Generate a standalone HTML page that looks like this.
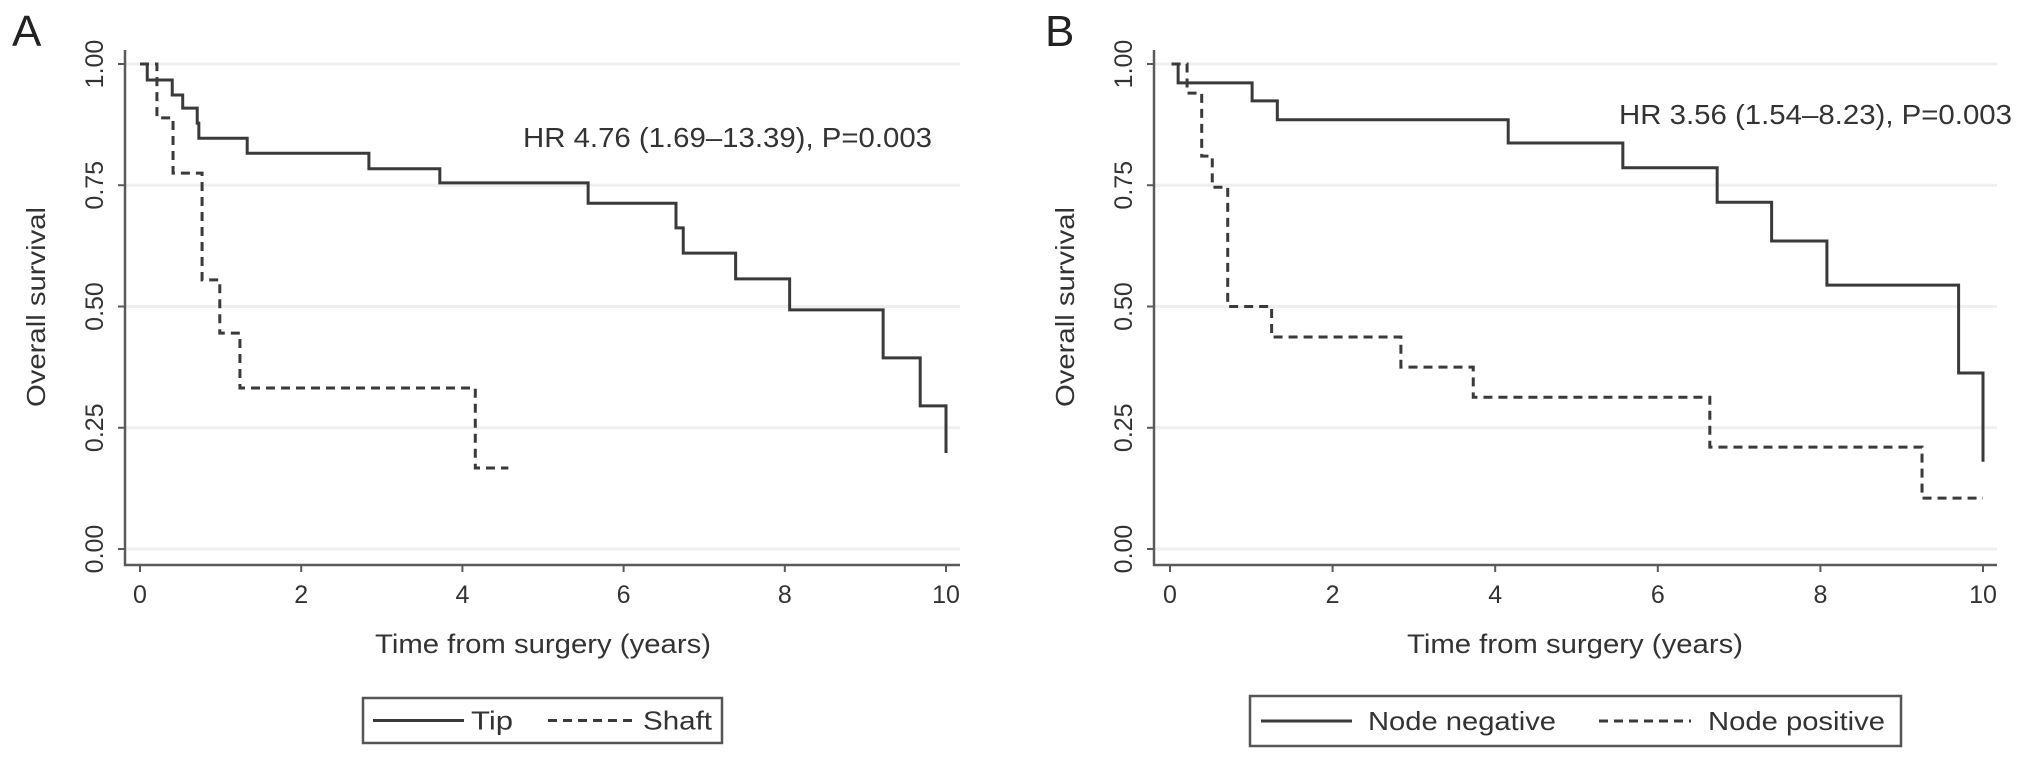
<!DOCTYPE html>
<html><head><meta charset="utf-8"><style>
html,body{margin:0;padding:0;background:#fff;}
svg{display:block;font-family:"Liberation Sans",sans-serif;}
</style></head><body>
<svg id="chart" width="2032" height="760" viewBox="0 0 2032 760" xmlns="http://www.w3.org/2000/svg"></svg>
<script>
// Panel A data
const aTipTimes = [0, 0.09, 0.40, 0.53, 0.71, 0.73, 1.33, 2.84, 3.72, 5.56, 6.65, 6.74, 7.39, 8.06, 9.22, 9.68, 10.0];
const aTipSurv  = [1, 0.967, 0.936, 0.909, 0.878, 0.847, 0.816, 0.784, 0.755, 0.713, 0.662, 0.610, 0.557, 0.493, 0.394, 0.295, 0.198];
const aTipEnd = 10.0;
const aShaftTimes = [0, 0.21, 0.41, 0.77, 0.99, 1.24, 4.16];
const aShaftSurv  = [1, 0.889, 0.775, 0.555, 0.445, 0.332, 0.167];
const aShaftEnd = 4.57;
// Panel B data
const bNegTimes = [0.02, 0.10, 1.01, 1.32, 4.16, 5.57, 6.73, 7.40, 8.08, 9.70, 10.0];
const bNegSurv  = [1, 0.961, 0.924, 0.885, 0.837, 0.786, 0.715, 0.635, 0.544, 0.363, 0.18];
const bNegEnd = 10.0;
const bPosTimes = [0.02, 0.21, 0.39, 0.52, 0.71, 1.25, 2.84, 3.73, 6.64, 9.25];
const bPosSurv  = [1, 0.94, 0.81, 0.746, 0.50, 0.437, 0.375, 0.313, 0.21, 0.105];
const bPosEnd = 10.0;
// Axis ticks
const xTicks = [0, 2, 4, 6, 8, 10];
const yTicks = [0, 0.25, 0.5, 0.75, 1.0];
const yTickLabels = ["0.00", "0.25", "0.50", "0.75", "1.00"];

const NS = "http://www.w3.org/2000/svg";
const svg = document.getElementById("chart");
function mk(tag, attrs, parent) {
  const e = document.createElementNS(NS, tag);
  for (const k in attrs) e.setAttribute(k, attrs[k]);
  (parent || svg).appendChild(e);
  return e;
}

function drawPanel(p) {
  const g = mk("g", {});
  
  
  const xs = t => p.x0 + t * p.pxYear;
  const ys = s => 549 - s * 485;

  // gridlines
  yTicks.forEach(v => {
    const l = mk("line", {x1: p.axisX + 1, x2: p.axisEnd, y1: ys(v), y2: ys(v), stroke: "#efefef", "stroke-width": 3}, g);
    
    
  });
  // axes
  const ya = mk("line", {x1: p.axisX, x2: p.axisX, y1: 50, y2: 566, stroke: "#5a5a5a", "stroke-width": 2.5}, g);
  
  
  const xa = mk("line", {x1: p.axisX - 1, x2: p.axisEnd, y1: 565, y2: 565, stroke: "#5a5a5a", "stroke-width": 2.5}, g);
  
  

  yTicks.forEach((v, i) => {
    const t = mk("line", {x1: p.axisX - 7, x2: p.axisX, y1: ys(v), y2: ys(v), stroke: "#5a5a5a", "stroke-width": 2}, g);
    
    
    const tx = mk("text", {x: 0, y: 0, transform: `translate(${p.axisX - 22},${ys(v)}) rotate(-90)`, "text-anchor": "middle", "font-size": 25, fill: "#333"}, g);
    tx.textContent = yTickLabels[i];
    
    
  });
  xTicks.forEach(v => {
    const t = mk("line", {x1: xs(v), x2: xs(v), y1: 565, y2: 572, stroke: "#5a5a5a", "stroke-width": 2}, g);
    
    
    const tx = mk("text", {x: xs(v), y: 603, "text-anchor": "middle", "font-size": 25, fill: "#333"}, g);
    tx.textContent = String(v);
    
    
  });

  // titles
  const yt = mk("text", {x: 0, y: 0, transform: `translate(${p.axisX - 80},307) rotate(-90)`, "text-anchor": "middle", "font-size": 26, fill: "#333", textLength: 200, lengthAdjust: "spacingAndGlyphs"}, g);
  yt.textContent = "Overall survival";
  
  
  const xt = mk("text", {x: p.titleX, y: 653, "text-anchor": "middle", "font-size": 27, fill: "#333", textLength: 336, lengthAdjust: "spacingAndGlyphs"}, g);
  xt.textContent = "Time from surgery (years)";
  
  

  const lt = mk("text", {x: p.letterX, y: 46, "font-size": 44, fill: "#222"}, g);
  lt.textContent = p.letter;
  
  

  const hr = mk("text", {x: p.hrX, y: p.hrY, "font-size": 28, fill: "#333", textLength: p.hrW, lengthAdjust: "spacingAndGlyphs"}, g);
  hr.textContent = p.hr;
  
  

  // curves
  p.series.forEach(s => {
    let d = "";
    s.times.forEach((t, i) => {
      if (i === 0) d += `M${xs(t)},${ys(s.surv[i])}`;
      else d += ` H${xs(t)} V${ys(s.surv[i])}`;
    });
    d += ` H${xs(s.end)}`;
    const path = mk("path", {d: d, fill: "none", stroke: "#3a3a3a", "stroke-width": 3, "stroke-dasharray": s.dash ? "9,6" : "none"}, g);
    
    
  });

  // legend
  const lg = mk("g", {}, g);
  
  
  const L = p.legend;
  const box = mk("rect", {x: L.x, y: L.y, width: L.w, height: L.h, fill: "#fff", stroke: "#555", "stroke-width": 2.5}, lg);
  
  
  L.entries.forEach(en => {
    const ln = mk("line", {x1: en.lx1, x2: en.lx2, y1: L.y + L.h / 2, y2: L.y + L.h / 2, stroke: "#3a3a3a", "stroke-width": 3, "stroke-dasharray": en.dash ? "9,6" : "none"}, lg);
    
    
    const tx = mk("text", {x: en.tx, y: L.y + L.h / 2 + 9, "font-size": 26, fill: "#333", textLength: en.tw, lengthAdjust: "spacingAndGlyphs"}, lg);
    tx.textContent = en.label;
    
    
  });
}

drawPanel({
  name: "panel-a", letter: "A", letterX: 12, x0: 140, pxYear: 80.6, axisX: 125, axisEnd: 960, titleX: 543,
  hr: "HR 4.76 (1.69\u201313.39), P=0.003", hrX: 523, hrY: 147, hrW: 409,
  series: [
    {id: "tip-curve", times: aTipTimes, surv: aTipSurv, end: aTipEnd, dash: false},
    {id: "shaft-curve", times: aShaftTimes, surv: aShaftSurv, end: aShaftEnd, dash: true}
  ],
  legend: {x: 363, y: 698, w: 359, h: 45, entries: [
    {label: "Tip", lx1: 373, lx2: 464, tx: 471, tw: 42, dash: false},
    {label: "Shaft", lx1: 548, lx2: 637, tx: 643, tw: 69, dash: true}
  ]}
});
drawPanel({
  name: "panel-b", letter: "B", letterX: 1045, x0: 1170, pxYear: 81.3, axisX: 1154, axisEnd: 1997, titleX: 1575,
  hr: "HR 3.56 (1.54\u20138.23), P=0.003", hrX: 1619, hrY: 124, hrW: 393,
  series: [
    {id: "node-negative-curve", times: bNegTimes, surv: bNegSurv, end: bNegEnd, dash: false},
    {id: "node-positive-curve", times: bPosTimes, surv: bPosSurv, end: bPosEnd, dash: true}
  ],
  legend: {x: 1250, y: 696, w: 651, h: 50, entries: [
    {label: "Node negative", lx1: 1261, lx2: 1352, tx: 1368, tw: 188, dash: false},
    {label: "Node positive", lx1: 1599, lx2: 1691, tx: 1708, tw: 177, dash: true}
  ]}
});
</script>
</body></html>
